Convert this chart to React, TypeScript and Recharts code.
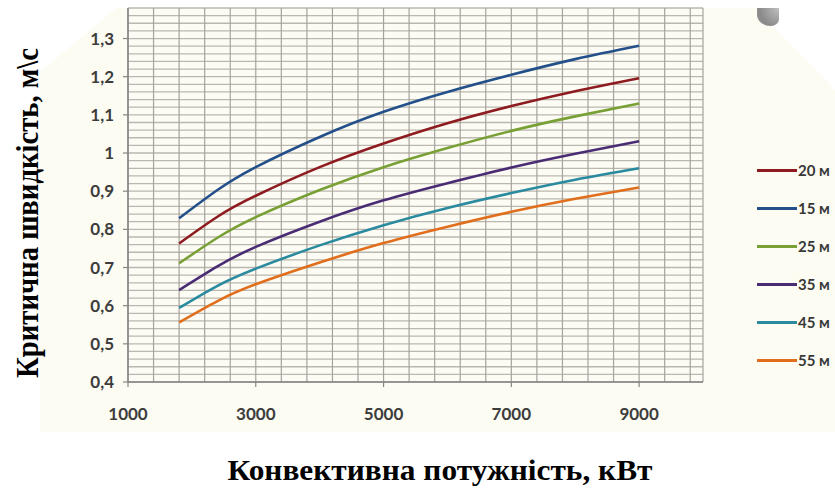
import React from 'react';
import { LineChart, Line, XAxis, YAxis, CartesianGrid, Legend, Label } from 'recharts';

const power = [1800, 2400, 3000, 4000, 5000, 6000, 7000, 8000, 9000];
const v20 = [0.763, 0.833, 0.888, 0.963, 1.025, 1.078, 1.123, 1.162, 1.196];
const v15 = [0.829, 0.903, 0.963, 1.042, 1.108, 1.16, 1.205, 1.246, 1.281];
const v25 = [0.711, 0.778, 0.832, 0.903, 0.963, 1.013, 1.058, 1.096, 1.13];
const v35 = [0.641, 0.703, 0.754, 0.82, 0.876, 0.921, 0.962, 0.998, 1.031];
const v45 = [0.594, 0.652, 0.697, 0.758, 0.811, 0.856, 0.895, 0.93, 0.96];
const v55 = [0.556, 0.612, 0.656, 0.713, 0.764, 0.807, 0.846, 0.88, 0.91];

const seriesNames = ['20 м', '15 м', '25 м', '35 м', '45 м', '55 м'];
const seriesKeys = ['s20', 's15', 's25', 's35', 's45', 's55'];
const seriesValues = [v20, v15, v25, v35, v45, v55];
const seriesColors = ['#8e1b1f', '#23508a', '#78a035', '#4a2c75', '#2a8a9f', '#e06e1c'];

const xTicks = [1000, 3000, 5000, 7000, 9000];
const yTicks = [0.4, 0.5, 0.6, 0.7, 0.8, 0.9, 1.0, 1.1, 1.2, 1.3];
const xGridValues = Array.from({ length: 23 }, (_, i) => 1000 + i * 400).concat([10000]);
const yGridValues = Array.from({ length: 50 }, (_, i) => Math.round((0.4 + i * 0.02) * 100) / 100);

const data = power.map((p, i) => {
  const row: any = { p };
  seriesKeys.forEach((k, j) => {
    row[k] = seriesValues[j][i];
  });
  return row;
});

const tickFont = 'Lato, "Open Sans", sans-serif';
const titleFont = '"Liberation Serif", "Times New Roman", serif';

const XTick = (props: any) => {
  const { x, y, payload } = props;
  return (
    <text x={x} y={y + 31} textAnchor="middle" fontFamily={tickFont} fontWeight={700} fontSize={17} fill="#3c3c3c">
      {String(payload.value)}
    </text>
  );
};

const fmtY = (v: number) => {
  if (Math.abs(v - 1) < 1e-9) return '1';
  return v.toFixed(1).replace('.', ',');
};

const YTick = (props: any) => {
  const { x, y, payload } = props;
  return (
    <text x={x - 7} y={y + 6} textAnchor="end" fontFamily={tickFont} fontWeight={700} fontSize={17} fill="#3c3c3c">
      {fmtY(payload.value)}
    </text>
  );
};

const renderLegend = (props: any) => {
  const payload = [...(props.payload || [])].sort(
    (a: any, b: any) => seriesNames.indexOf(a.value) - seriesNames.indexOf(b.value)
  );
  return (
    <div style={{ margin: 0, padding: 0 }}>
      {payload.map((e: any, i: number) => (
        <div key={i} style={{ height: 38, display: 'flex', alignItems: 'center', whiteSpace: 'nowrap' }}>
          <div style={{ width: 40, height: 3, background: e.color }} />
          <span style={{ fontFamily: tickFont, fontWeight: 700, fontSize: 15, color: '#383838', marginLeft: 1 }}>
            {e.value}
          </span>
        </div>
      ))}
    </div>
  );
};

export default function App() {
  return (
    <div style={{ position: 'absolute', left: 0, top: 0, width: 835, height: 491, background: '#ffffff', overflow: 'hidden' }}>
      <div
        style={{
          position: 'absolute',
          left: 0,
          top: 0,
          width: 835,
          height: 491,
          background: '#fdfcf3',
          clipPath: 'polygon(40px 72px, 116px 8px, 755px 8px, 835px 90px, 835px 432px, 40px 432px)',
        }}
      />
      <div
        style={{
          position: 'absolute',
          left: 757,
          top: 8,
          width: 22,
          height: 18,
          background: 'radial-gradient(circle at 100% 0%, #c0c0c0 0%, #8a8a8a 70%, #9a9a9a 100%)',
          borderRadius: '0 0 60% 100%',
        }}
      />
      <div style={{ position: 'absolute', left: 0, top: 0 }}>
        <LineChart width={835} height={491} data={data} margin={{ top: 8, right: 132, bottom: 79, left: 58 }}>
          <CartesianGrid
            vertical={false}
            horizontalValues={yGridValues}
            stroke="#bab7ae"
            strokeWidth={1.3}
            fill="#fdfcf4"
          />
          <CartesianGrid horizontal={false} verticalValues={xGridValues} stroke="#a6a39c" strokeWidth={1.2} />
          <XAxis
            dataKey="p"
            type="number"
            domain={[1000, 10000]}
            ticks={xTicks}
            allowDataOverflow
            height={30}
            tick={XTick}
            tickSize={5}
            tickLine={{ stroke: '#858585', strokeWidth: 1.2 }}
            axisLine={{ stroke: '#858585', strokeWidth: 1.5 }}
            interval={0}
          >
            <Label
              content={() => (
                <text
                  x={440}
                  y={480}
                  textAnchor="middle"
                  fontFamily={titleFont}
                  fontWeight={700}
                  fontSize={29}
                  fill="#000"
                  textLength={425}
                  lengthAdjust="spacingAndGlyphs"
                >
                  Конвективна потужність, кВт
                </text>
              )}
            />
          </XAxis>
          <YAxis
            type="number"
            domain={[0.4, 1.38]}
            ticks={yTicks}
            allowDataOverflow
            width={70}
            tick={YTick}
            tickSize={5}
            tickLine={{ stroke: '#858585', strokeWidth: 1.2 }}
            axisLine={{ stroke: '#858585', strokeWidth: 1.5 }}
            interval={0}
          >
            <Label
              content={() => (
                <text
                  transform="translate(38,213) rotate(-90)"
                  textAnchor="middle"
                  fontFamily={titleFont}
                  fontWeight={700}
                  fontSize={31}
                  fill="#000"
                  textLength={330}
                  lengthAdjust="spacingAndGlyphs"
                >
                  Критична швидкість, м\с
                </text>
              )}
            />
          </YAxis>
          <Legend
            layout="vertical"
            align="center"
            verticalAlign="middle"
            wrapperStyle={{ left: 757, top: 151, width: 78 }}
            content={renderLegend}
          />
          {seriesKeys.map((k, j) => (
            <Line
              key={k}
              type="natural"
              dataKey={k}
              name={seriesNames[j]}
              stroke={seriesColors[j]}
              strokeWidth={2.6}
              dot={false}
              isAnimationActive={false}
            />
          ))}
        </LineChart>
      </div>
    </div>
  );
}
